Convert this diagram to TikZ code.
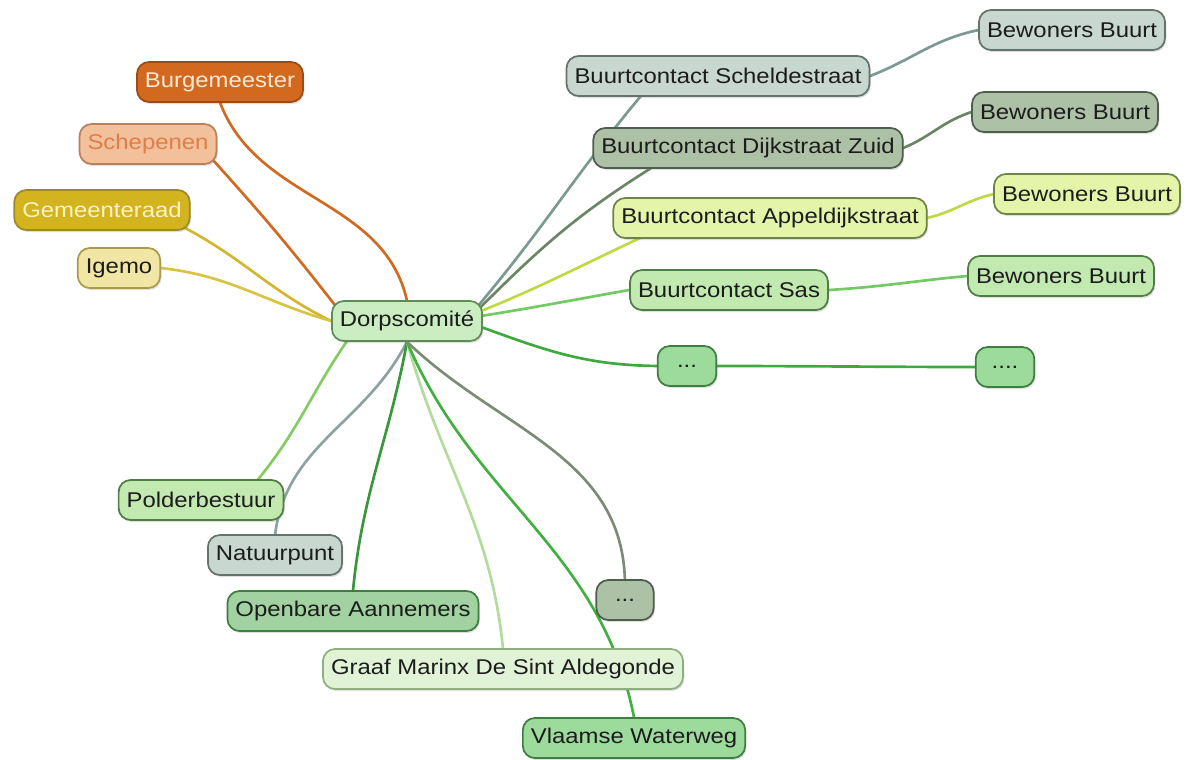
\documentclass[tikz,border=0pt]{standalone}
\usepackage{fontspec}
\setmainfont[FakeStretch=1.12]{Liberation Sans}
\usetikzlibrary{shadows}
\pgfdeclarelayer{background}
\pgfsetlayers{background,main}

\definecolor{burgfill}{HTML}{D2691E}
\definecolor{burgline}{HTML}{9C4A18}
\definecolor{burgtext}{HTML}{FBE9D6}
\definecolor{schepfill}{HTML}{F3C09C}
\definecolor{schepline}{HTML}{B8805C}
\definecolor{scheptext}{HTML}{E07E48}
\definecolor{gemfill}{HTML}{D4B41E}
\definecolor{gemline}{HTML}{9C8A28}
\definecolor{gemtext}{HTML}{FAF2C4}
\definecolor{igemofill}{HTML}{F1E6A4}
\definecolor{igemoline}{HTML}{A89A4E}
\definecolor{dorpfill}{HTML}{CBEDC2}
\definecolor{dorpline}{HTML}{5E8C56}
\definecolor{sagefill}{HTML}{C8D8D0}
\definecolor{sageline}{HTML}{62746C}
\definecolor{olivefill}{HTML}{ADC1A6}
\definecolor{oliveline}{HTML}{4E5E4C}
\definecolor{limefill}{HTML}{E4F5A9}
\definecolor{limeline}{HTML}{6E8446}
\definecolor{mintfill}{HTML}{C2EAB0}
\definecolor{mintline}{HTML}{4E7E44}
\definecolor{greenfill}{HTML}{9CDB9C}
\definecolor{greenline}{HTML}{3E7E3E}
\definecolor{openfill}{HTML}{A2D2A2}
\definecolor{palefill}{HTML}{E0F3D6}
\definecolor{paleline}{HTML}{8EAE80}
\definecolor{inktext}{HTML}{1C1C1C}
% connector colours
\definecolor{edgeorange}{HTML}{D2691E}
\definecolor{edgemustard}{HTML}{D2B62E}
\definecolor{edgeyellow}{HTML}{D8C444}
\definecolor{edgesage}{HTML}{7C9892}
\definecolor{edgeolive}{HTML}{6A8664}
\definecolor{edgelime}{HTML}{BEDA42}
\definecolor{edgesas}{HTML}{72CA62}
\definecolor{edgegreen}{HTML}{3EAA3E}
\definecolor{edgepolder}{HTML}{82CC62}
\definecolor{edgenatuur}{HTML}{8CA2A2}
\definecolor{edgedark}{HTML}{3A963A}
\definecolor{edgepale}{HTML}{B2DC9C}
\definecolor{edgevlaams}{HTML}{40B040}
\definecolor{edgedots}{HTML}{7C8C74}

% the dot labels, kept out of \foreach's way
\def\threedot{...}
\def\fourdot{....}

\def\nodelist{{(220,-82)/burg/burgbox/Burgemeester},
  {(148,-144)/schep/schepbox/Schepenen},
  {(102,-210)/gem/gembox/Gemeenteraad},
  {(119,-268)/igemo/igemobox/Igemo},
  {(407,-321)/dorp/dorpbox/Dorpscomité},
  {(718,-76)/scheld/sagebox/Buurtcontact Scheldestraat},
  {(1072,-30)/bewa/sagebox/Bewoners Buurt},
  {(748,-148)/dijk/olivebox/Buurtcontact Dijkstraat Zuid},
  {(1065,-112)/bewb/olivebox/Bewoners Buurt},
  {(770,-218)/appel/limebox/Buurtcontact Appeldijkstraat},
  {(1087,-194)/bewc/limebox/Bewoners Buurt},
  {(729,-290)/sas/mintbox/Buurtcontact Sas},
  {(1061,-276)/bewd/mintbox/Bewoners Buurt},
  {(687,-366)/dotsa/dotbox/\threedot},
  {(1005,-367)/dotsb/dotbox/\fourdot},
  {(201,-500)/polder/mintbox/Polderbestuur},
  {(275,-555)/natuur/sagebox/Natuurpunt},
  {(353,-611)/openbare/openbox/Openbare Aannemers},
  {(625,-600)/dotsc/greydotbox/\threedot},
  {(503,-669)/graaf/palebox/Graaf Marinx De Sint Aldegonde},
  {(634,-738)/vlaamse/greenbox/Vlaamse Waterweg}}

\def\edgelist{{burg.south/dorp.north/-72/100/edgeorange},
  {schep.south east/dorp.north west/-48/128/edgeorange},
  {gem.south east/dorp.west/-28/155/edgemustard},
  {igemo.east/dorp.west/-5/165/edgeyellow},
  {dorp.north east/scheld.195/50/-130/edgesage},
  {scheld.east/bewa.west/20/-170/edgesage},
  {dorp.12/dijk.192/45/-148/edgeolive},
  {dijk.east/bewb.west/20/-165/edgeolive},
  {dorp.8/appel.189/22/-155/edgelime},
  {appel.east/bewc.west/10/-170/edgelime},
  {dorp.4/sas.west/9/-170/edgesas},
  {sas.east/bewd.west/3/-175/edgesas},
  {dorp.-5/dotsa.west/-20/180/edgegreen},
  {dotsa.east/dotsb.west/0/180/edgegreen},
  {dorp.199/polder.20/-125/50/edgepolder},
  {dorp.south/natuur.north/-115/85/edgenatuur},
  {dorp.south/openbare.north/-100/85/edgedark},
  {dorp.south/graaf.north/-75/95/edgepale},
  {dorp.south/vlaamse.north/-68/100/edgevlaams},
  {dorp.south/dotsc.north/-45/90/edgedots}}

\tikzstyle{bubble}=[rounded corners=9pt, draw, line width=1.3pt, minimum height=30pt,
  inner xsep=6pt, text=inktext, font=\fontsize{16}{18}\selectfont,
  drop shadow={shadow xshift=1pt, shadow yshift=-1.5pt, opacity=0.25}]
\tikzstyle{burgbox}=[bubble, fill=burgfill, draw=burgline, text=burgtext]
\tikzstyle{schepbox}=[bubble, fill=schepfill, draw=schepline, text=scheptext]
\tikzstyle{gembox}=[bubble, fill=gemfill, draw=gemline, text=gemtext]
\tikzstyle{igemobox}=[bubble, fill=igemofill, draw=igemoline]
\tikzstyle{dorpbox}=[bubble, fill=dorpfill, draw=dorpline]
\tikzstyle{sagebox}=[bubble, fill=sagefill, draw=sageline]
\tikzstyle{olivebox}=[bubble, fill=olivefill, draw=oliveline]
\tikzstyle{limebox}=[bubble, fill=limefill, draw=limeline]
\tikzstyle{mintbox}=[bubble, fill=mintfill, draw=mintline]
\tikzstyle{greenbox}=[bubble, fill=greenfill, draw=greenline]
\tikzstyle{openbox}=[bubble, fill=openfill, draw=greenline]
\tikzstyle{palebox}=[bubble, fill=palefill, draw=paleline]
\tikzstyle{dotbox}=[greenbox, minimum width=44pt]
\tikzstyle{greydotbox}=[olivebox, minimum width=43pt]
\tikzstyle{edge}=[draw, line width=2pt, shorten <=-5pt, shorten >=-5pt]

\begin{document}
\begin{tikzpicture}[x=0.75pt, y=0.75pt]
  \useasboundingbox (0,0) rectangle (1186,-760);

  % First the topics
  \foreach \pos/\name/\sty/\txt in \nodelist
    \node[\sty] (\name) at \pos {\txt};

  % Then the branches, behind the topics
  \begin{pgfonlayer}{background}
    \foreach \source/\dest/\o/\i/\col in \edgelist
      \path[edge, \col] (\source) to[out=\o, in=\i] (\dest);
  \end{pgfonlayer}
\end{tikzpicture}
\end{document}
